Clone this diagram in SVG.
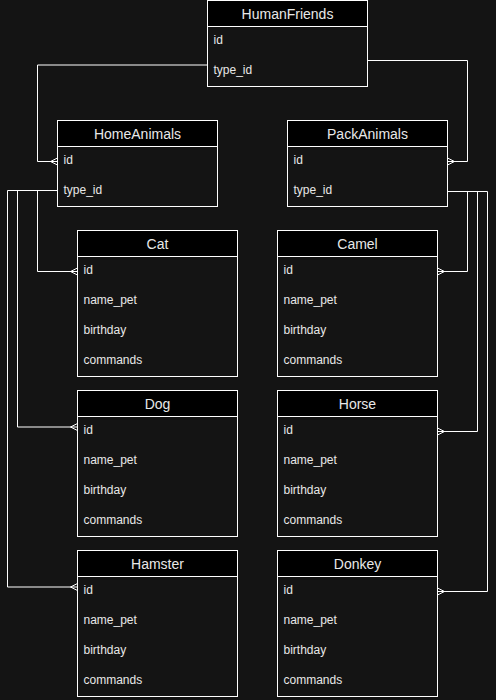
<svg xmlns="http://www.w3.org/2000/svg" width="496" height="700" viewBox="0 0 496 700">
<style>
.body{fill:#141414;stroke:#ffffff;stroke-width:1}
.head{fill:#000000;stroke:#ffffff;stroke-width:1}
.ht{font-family:"Liberation Sans",Arial,sans-serif;font-size:14px;fill:#e8e8e8;text-anchor:middle}
.rt{font-family:"Liberation Sans",Arial,sans-serif;font-size:12px;fill:#e8e8e8}
.edge{fill:none;stroke:#ffffff;stroke-width:1}
</style>
<rect x="0" y="0" width="496" height="700" fill="#141414"/>
<g id="connectors">
  <path class="edge" d="M207.5,65 H37.5 V161.5 H57.5"/>
  <path class="edge" d="M57.5,158 L50.5,161.5 L57.5,165 M50.5,161.5 H57.5"/>
  <path class="edge" d="M367.5,60.5 H467.5 V161.5 H447.5"/>
  <path class="edge" d="M447.5,158 L454.5,161.5 L447.5,165 M454.5,161.5 H447.5"/>
  <path class="edge" d="M57.5,190.5 H37.5 V271.5 H77.5"/>
  <path class="edge" d="M77.5,268 L70.5,271.5 L77.5,275"/>
  <path class="edge" d="M57.5,190.5 H17.5 V427 H77.5"/>
  <path class="edge" d="M77.5,423.5 L70.5,427 L77.5,430.5"/>
  <path class="edge" d="M57.5,190.5 H7.5 V587 H77.5"/>
  <path class="edge" d="M77.5,583.5 L70.5,587 L77.5,590.5"/>
  <path class="edge" d="M447.5,191.5 H467.5 V271.5 H437.5"/>
  <path class="edge" d="M437.5,268 L444.5,271.5 L437.5,275"/>
  <path class="edge" d="M447.5,191.5 H477.5 V431.5 H437.5"/>
  <path class="edge" d="M437.5,428 L444.5,431.5 L437.5,435"/>
  <path class="edge" d="M447.5,191.5 H487.5 V591.5 H437.5"/>
  <path class="edge" d="M437.5,588 L444.5,591.5 L437.5,595"/>
</g>
<g id="HumanFriends">
  <rect class="body" x="207.5" y="0.5" width="160" height="86"/>
  <rect class="head" x="207.5" y="0.5" width="160" height="26"/>
  <text class="ht" x="287.5" y="19">HumanFriends</text>
  <text class="rt" x="213.5" y="43.5">id</text>
  <text class="rt" x="213.5" y="73.5">type_id</text>
</g>
<g id="HomeAnimals">
  <rect class="body" x="57.5" y="120.5" width="160" height="86"/>
  <rect class="head" x="57.5" y="120.5" width="160" height="26"/>
  <text class="ht" x="137.5" y="139">HomeAnimals</text>
  <text class="rt" x="63.5" y="163.5">id</text>
  <text class="rt" x="63.5" y="193.5">type_id</text>
</g>
<g id="PackAnimals">
  <rect class="body" x="287.5" y="120.5" width="160" height="86"/>
  <rect class="head" x="287.5" y="120.5" width="160" height="26"/>
  <text class="ht" x="367.5" y="139">PackAnimals</text>
  <text class="rt" x="293.5" y="163.5">id</text>
  <text class="rt" x="293.5" y="193.5">type_id</text>
</g>
<g id="Cat">
  <rect class="body" x="77.5" y="230.5" width="160" height="146"/>
  <rect class="head" x="77.5" y="230.5" width="160" height="26"/>
  <text class="ht" x="157.5" y="249">Cat</text>
  <text class="rt" x="83.5" y="273.5">id</text>
  <text class="rt" x="83.5" y="303.5">name_pet</text>
  <text class="rt" x="83.5" y="333.5">birthday</text>
  <text class="rt" x="83.5" y="363.5">commands</text>
</g>
<g id="Dog">
  <rect class="body" x="77.5" y="390.5" width="160" height="146"/>
  <rect class="head" x="77.5" y="390.5" width="160" height="26"/>
  <text class="ht" x="157.5" y="409">Dog</text>
  <text class="rt" x="83.5" y="433.5">id</text>
  <text class="rt" x="83.5" y="463.5">name_pet</text>
  <text class="rt" x="83.5" y="493.5">birthday</text>
  <text class="rt" x="83.5" y="523.5">commands</text>
</g>
<g id="Hamster">
  <rect class="body" x="77.5" y="550.5" width="160" height="146"/>
  <rect class="head" x="77.5" y="550.5" width="160" height="26"/>
  <text class="ht" x="157.5" y="569">Hamster</text>
  <text class="rt" x="83.5" y="593.5">id</text>
  <text class="rt" x="83.5" y="623.5">name_pet</text>
  <text class="rt" x="83.5" y="653.5">birthday</text>
  <text class="rt" x="83.5" y="683.5">commands</text>
</g>
<g id="Camel">
  <rect class="body" x="277.5" y="230.5" width="160" height="146"/>
  <rect class="head" x="277.5" y="230.5" width="160" height="26"/>
  <text class="ht" x="357.5" y="249">Camel</text>
  <text class="rt" x="283.5" y="273.5">id</text>
  <text class="rt" x="283.5" y="303.5">name_pet</text>
  <text class="rt" x="283.5" y="333.5">birthday</text>
  <text class="rt" x="283.5" y="363.5">commands</text>
</g>
<g id="Horse">
  <rect class="body" x="277.5" y="390.5" width="160" height="146"/>
  <rect class="head" x="277.5" y="390.5" width="160" height="26"/>
  <text class="ht" x="357.5" y="409">Horse</text>
  <text class="rt" x="283.5" y="433.5">id</text>
  <text class="rt" x="283.5" y="463.5">name_pet</text>
  <text class="rt" x="283.5" y="493.5">birthday</text>
  <text class="rt" x="283.5" y="523.5">commands</text>
</g>
<g id="Donkey">
  <rect class="body" x="277.5" y="550.5" width="160" height="146"/>
  <rect class="head" x="277.5" y="550.5" width="160" height="26"/>
  <text class="ht" x="357.5" y="569">Donkey</text>
  <text class="rt" x="283.5" y="593.5">id</text>
  <text class="rt" x="283.5" y="623.5">name_pet</text>
  <text class="rt" x="283.5" y="653.5">birthday</text>
  <text class="rt" x="283.5" y="683.5">commands</text>
</g>
</svg>
